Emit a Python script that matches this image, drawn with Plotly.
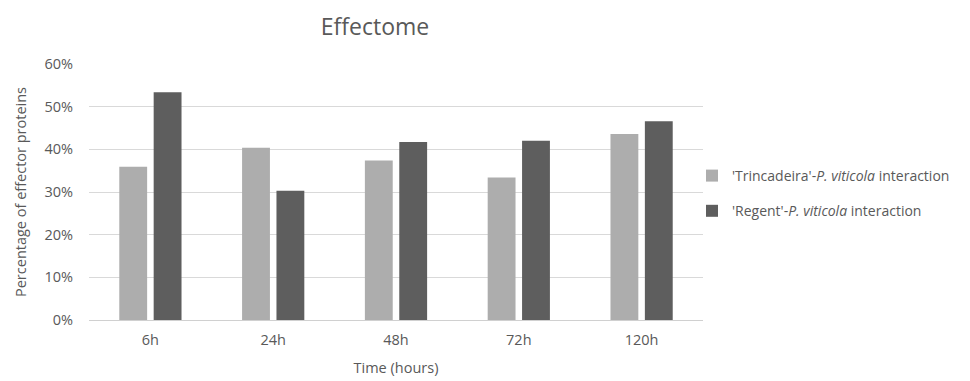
import plotly.graph_objects as go

# Time points and the share of predicted effector proteins per interaction
time_points = ["6h", "24h", "48h", "72h", "120h"]
trincadeira_pct = [0.359, 0.404, 0.374, 0.334, 0.436]
regent_pct = [0.534, 0.303, 0.417, 0.420, 0.466]
y_ticks = [0, 0.1, 0.2, 0.3, 0.4, 0.5, 0.6]

FONT = "Open Sans, Noto Sans, sans-serif"
TEXT = "#595959"

PLOT_L, PLOT_R, PLOT_T, PLOT_B = 89, 703, 64, 320

fig = go.Figure()
fig.add_trace(go.Bar(
    x=time_points, y=trincadeira_pct,
    name="'Trincadeira'-<i>P. viticola</i> interaction",
    legendgroup="trincadeira",
    marker=dict(color="#ADADAD", line=dict(width=0)),
))
fig.add_trace(go.Bar(
    x=time_points, y=regent_pct,
    name="'Regent'-<i>P. viticola</i> interaction",
    legendgroup="regent",
    marker=dict(color="#5E5E5E", line=dict(width=0)),
))

fig.update_layout(
    width=970, height=381,
    margin=dict(l=PLOT_L, r=970 - PLOT_R, t=PLOT_T, b=381 - PLOT_B),
    paper_bgcolor="white", plot_bgcolor="white",
    font=dict(family=FONT, color=TEXT, size=14.5),
    barmode="group", bargap=0.44, bargroupgap=0.19,
    title=dict(text="Effectome", x=375 / 970, xanchor="center",
               y=1 - 27 / 381, yanchor="middle",
               font=dict(size=23, color=TEXT, family=FONT)),
    showlegend=True,
    legend=dict(x=(692 - PLOT_L) / (PLOT_R - PLOT_L), xanchor="left",
                y=(PLOT_B - 193.5) / (PLOT_B - PLOT_T), yanchor="middle",
                font=dict(size=14, color=TEXT), tracegroupgap=14,
                itemwidth=30, bgcolor="rgba(0,0,0,0)"),
)

fig.update_xaxes(
    automargin=False,
    showgrid=False, showline=True, linecolor="#D0D0D0", linewidth=1,
    ticks="", tickfont=dict(size=14.5, color=TEXT), ticklabelstandoff=7,
    title=dict(text="Time (hours)", font=dict(size=14.5, color=TEXT), standoff=14),
)
fig.update_yaxes(
    automargin=False,
    range=[0, 0.6], tickvals=y_ticks, tickformat=".0%",
    showgrid=True, gridcolor="#D9D9D9", gridwidth=1, zeroline=False,
    ticks="", ticklen=0, tickfont=dict(size=14.5, color=TEXT), ticklabelstandoff=15,
    title=dict(text="Percentage of effector proteins",
               font=dict(size=14.5, color=TEXT), standoff=14),
)

fig.write_html("out.html")
